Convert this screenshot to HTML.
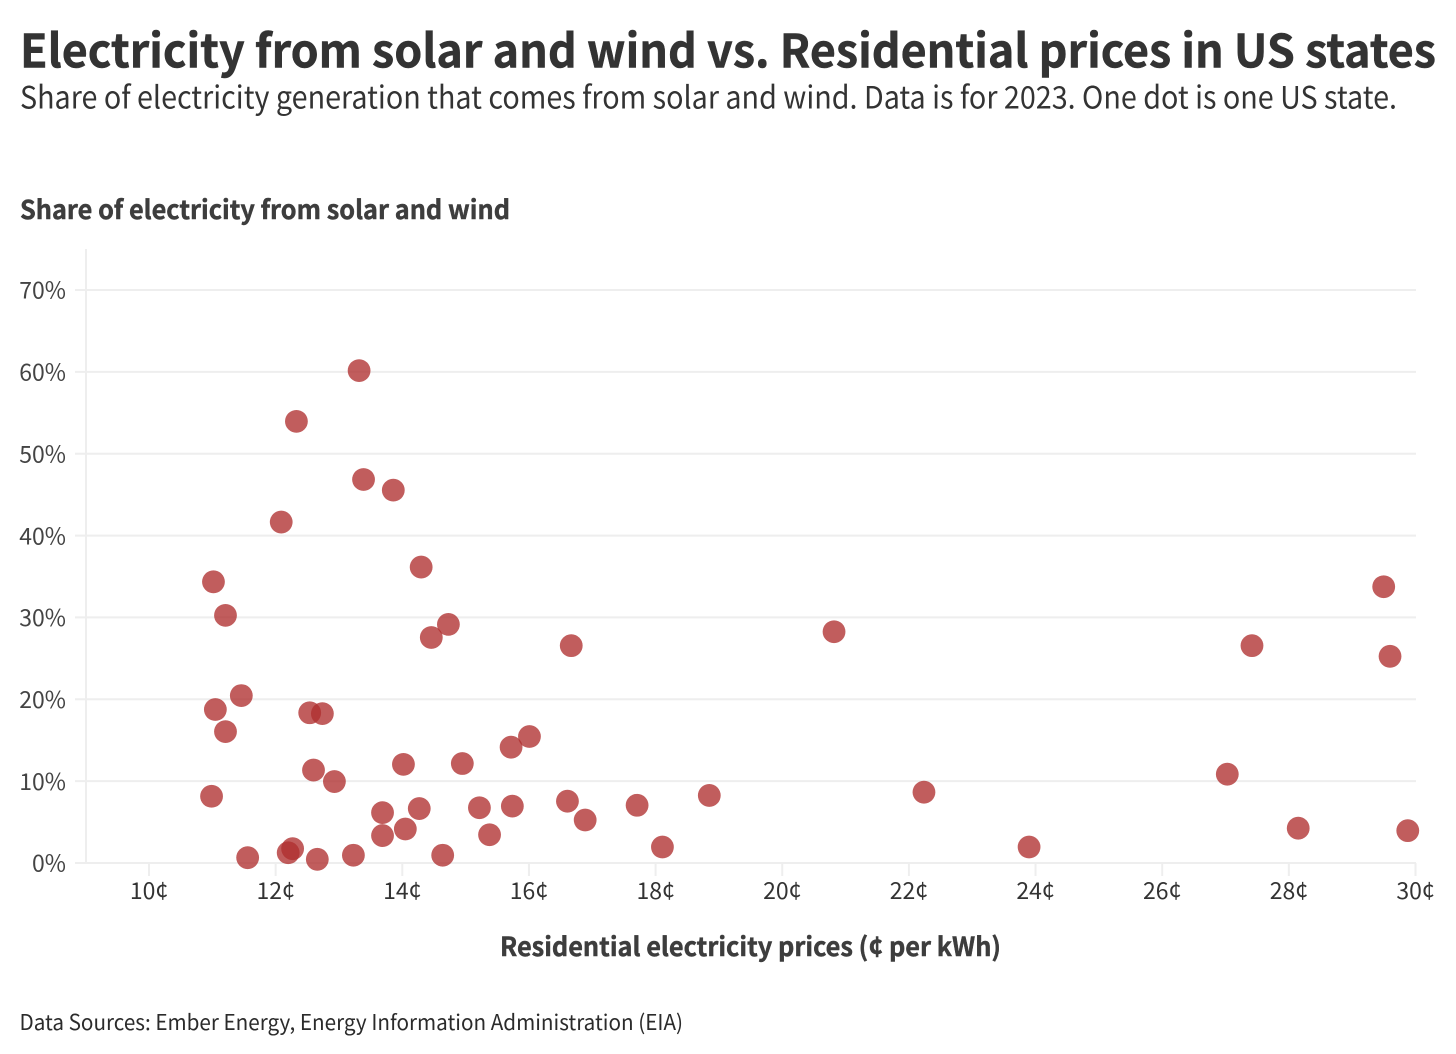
<!DOCTYPE html>
<html lang="en">
<head>
<meta charset="utf-8">
<title>Electricity from solar and wind vs. Residential prices in US states</title>
<style>
html,body{margin:0;padding:0;background:#fff;}
body{width:1456px;height:1054px;overflow:hidden;position:relative;}
svg{position:absolute;left:0;top:0;display:block;}
text{font-family:"Noto Sans CJK JP","Liberation Sans",sans-serif;}
</style>
</head>
<body>
<svg id="chart" width="1456" height="1054" viewBox="0 0 1456 1054" xmlns="http://www.w3.org/2000/svg">
  <text x="20" y="67.5" font-size="46" font-weight="700" fill="#333333" stroke="#333333" stroke-width="0.5" textLength="1416" lengthAdjust="spacingAndGlyphs">Electricity from solar and wind vs. Residential prices in US states</text>
  <text x="20" y="108.5" font-size="31" font-weight="400" fill="#333333" textLength="1377" lengthAdjust="spacingAndGlyphs">Share of electricity generation that comes from solar and wind. Data is for 2023. One dot is one US state.</text>
  <text x="20" y="219" font-size="26" font-weight="700" fill="#3d3d3d" stroke="#3d3d3d" stroke-width="0.45" textLength="490" lengthAdjust="spacingAndGlyphs">Share of electricity from solar and wind</text>
  <g id="grid"></g>
  <g id="axes"></g>
  <g id="dots" transform="translate(0.5 0.4)"></g>
  <text x="750.5" y="956" font-size="26" font-weight="700" fill="#3d3d3d" stroke="#3d3d3d" stroke-width="0.45" text-anchor="middle" textLength="501" lengthAdjust="spacingAndGlyphs">Residential electricity prices (¢ per kWh)</text>
  <text x="19.5" y="1030" font-size="21.5" font-weight="400" fill="#2b2b2b" textLength="663.5" lengthAdjust="spacingAndGlyphs">Data Sources: Ember Energy, Energy Information Administration (EIA)</text>
</svg>
<script>
const xTicks = [10, 12, 14, 16, 18, 20, 22, 24, 26, 28, 30];
const yTicks = [0, 10, 20, 30, 40, 50, 60, 70];
const priceCents = [13.31, 12.32, 13.38, 13.85, 12.08, 14.29, 11.01, 11.2, 14.72, 14.45, 16.66, 20.81, 29.49, 27.41, 29.59, 11.45, 11.04, 12.53, 12.73, 11.2, 16.0, 15.71, 14.01, 14.94, 12.59, 12.92, 10.98, 27.02, 22.23, 18.84, 13.68, 14.26, 15.21, 15.73, 16.6, 17.7, 16.88, 13.68, 14.04, 15.37, 28.14, 29.87, 18.1, 23.89, 12.26, 12.19, 11.55, 12.65, 13.22, 14.63];
const sharePct = [60.2, 54.0, 46.9, 45.6, 41.7, 36.2, 34.4, 30.3, 29.2, 27.6, 26.6, 28.3, 33.8, 26.6, 25.3, 20.5, 18.8, 18.4, 18.3, 16.1, 15.5, 14.2, 12.1, 12.2, 11.4, 10.0, 8.2, 10.9, 8.7, 8.3, 6.2, 6.7, 6.8, 7.0, 7.6, 7.1, 5.3, 3.4, 4.2, 3.5, 4.3, 4.0, 2.0, 2.0, 1.8, 1.3, 0.7, 0.5, 1.0, 1.0];

const NS = 'http://www.w3.org/2000/svg';
const plotLeft = 86, plotRight = 1416, plotBottom = 863, plotTop = 249;
function xScale(v) { return 149 + (v - 10) * (1415.5 - 149) / 20; }
function yScale(v) { return 863 - v * (863 - 290) / 70; }
function make(tag, attrs, parent) {
  const el = document.createElementNS(NS, tag);
  for (const k in attrs) el.setAttribute(k, attrs[k]);
  parent.appendChild(el);
  return el;
}
const gridG = document.getElementById('grid');
const axesG = document.getElementById('axes');
const dotsG = document.getElementById('dots');
const tickColor = '#eeeeee';

yTicks.forEach(function (t) {
  const line = make('line', {x1: 75, x2: plotRight, y1: yScale(t), y2: yScale(t), stroke: tickColor, 'stroke-width': 2}, gridG);
  
  
  const label = make('text', {x: 66, y: yScale(t) + 8.7, 'text-anchor': 'end', 'font-size': 23, fill: '#444444'}, axesG);
  label.textContent = t + '%';
  
  
});

const yAxis = make('line', {x1: plotLeft, x2: plotLeft, y1: plotTop, y2: plotBottom, stroke: tickColor, 'stroke-width': 2}, axesG);



xTicks.forEach(function (t) {
  const tick = make('line', {x1: xScale(t), x2: xScale(t), y1: plotBottom, y2: 876, stroke: tickColor, 'stroke-width': 2}, axesG);
  
  
  const label = make('text', {x: xScale(t), y: 899, 'text-anchor': 'middle', 'font-size': 23, fill: '#333333'}, axesG);
  label.textContent = t + '¢';
  
  
});

priceCents.forEach(function (p, i) {
  const dot = make('circle', {cx: xScale(p), cy: yScale(sharePct[i]), r: 11.4, fill: '#b03030', 'fill-opacity': 0.78}, dotsG);
  
  
});
</script>
</body>
</html>
